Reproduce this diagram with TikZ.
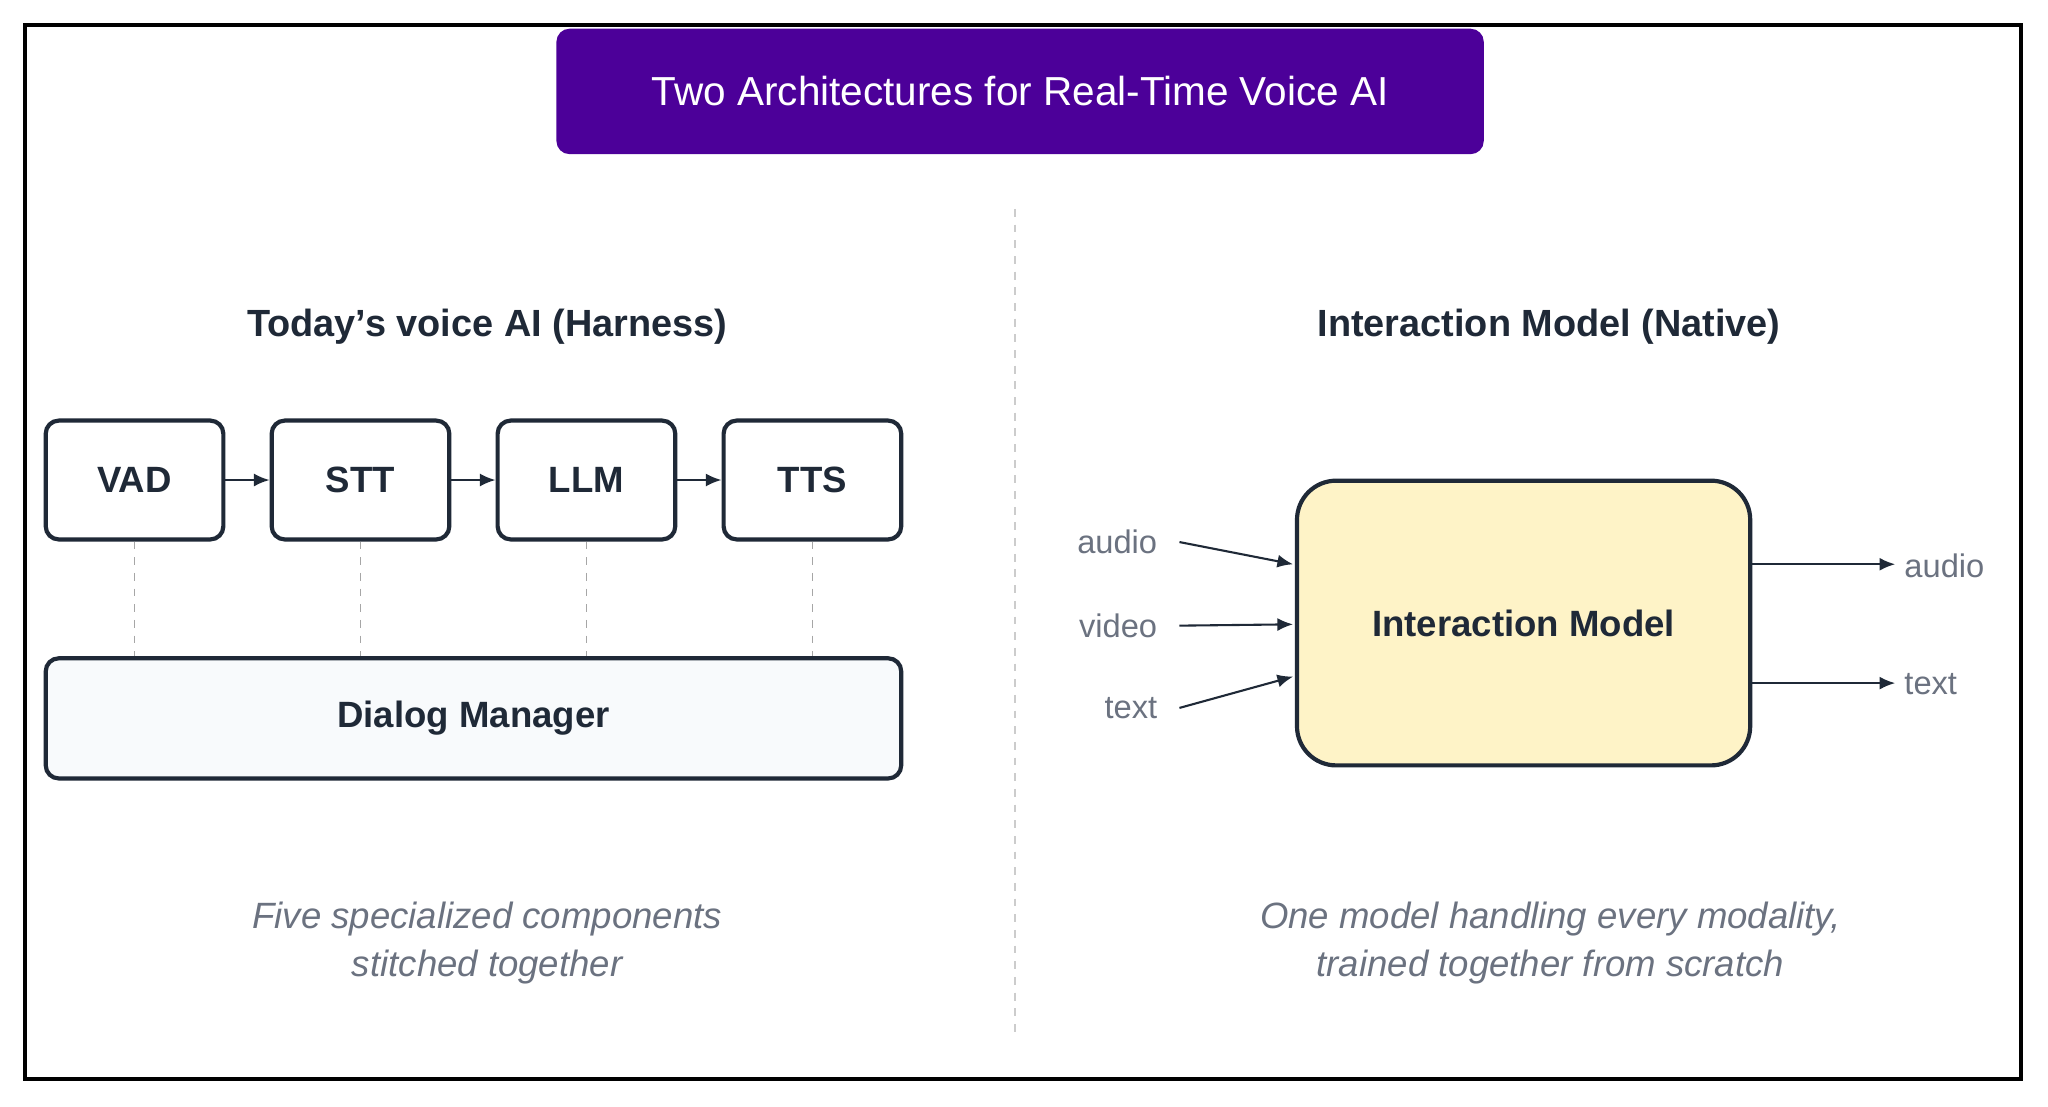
\documentclass[tikz,border=0pt]{standalone}
\usepackage{fontspec}
\setmainfont{Liberation Sans}
\usetikzlibrary{arrows.meta}
\definecolor{ink}{HTML}{1F2937}
\definecolor{purp}{HTML}{4C0099}
\definecolor{capg}{HTML}{6B7280}
\definecolor{dm}{HTML}{F8FAFC}
\definecolor{ym}{HTML}{FEF3C7}
\begin{document}
\begin{tikzpicture}[x=0.5pt,y=-0.5pt,
  blk/.style={draw=ink,line width=1.6pt,rounded corners=5pt,font=\bfseries\fontsize{14}{16}\selectfont,text=ink},
  arr/.style={-{Latex[length=6pt,width=5pt]},ink,line width=0.8pt},
  dsh/.style={gray!70,dashed,line width=0.6pt},
  head/.style={font=\bfseries\fontsize{14.5}{17}\selectfont,text=ink},
  capt/.style={font=\itshape\fontsize{14}{18}\selectfont,text=capg,align=center},
  lab/.style={font=\fontsize{12.5}{15}\selectfont,text=capg}]
\fill[white] (0,0) rectangle (1568,847);
\useasboundingbox (0,0) rectangle (1568,847);
\draw[black,line width=1.5pt] (19,19) rectangle (1547,826);
\node[fill=purp,rounded corners=5pt,minimum width=355pt,minimum height=48pt,text=white,font=\fontsize{15.5}{18}\selectfont] (title) at (781,70) {Two Architectures for Real-Time Voice AI};
\draw[gray!40,dashed,line width=0.6pt] (777,160) coordinate (d1) -- (777,790) coordinate (d2);
\node[head] (lh) at (373,250) {Today's voice AI (Harness)};
\node[head] (rh) at (1186,250) {Interaction Model (Native)};
\foreach \n/\x/\t in {vad/103/VAD,stt/276/STT,llm/449/LLM,tts/622/TTS}{
  \node[blk,minimum width=68pt,minimum height=45.5pt] (\n) at (\x,367.5) {\t};
}
\node[blk,fill=dm,minimum width=327.5pt,minimum height=46pt] (dmg) at (362.5,550) {Dialog Manager};
\draw[arr] (vad) -- (stt);
\draw[arr] (stt) -- (llm);
\draw[arr] (llm) -- (tts);
\foreach \n in {vad,stt,llm,tts}{\draw[dsh] (\n.south) -- (\n.south |- dmg.north);}
\node[capt] (lc) at (373,722) {Five specialized components\\stitched together};
\node[blk,fill=ym,rounded corners=15pt,minimum width=173.5pt,minimum height=109pt] (im) at (1166.5,477) {Interaction Model};
\node[lab,anchor=east] (ia) at (893,415) {audio};
\node[lab,anchor=east] (iv) at (893,479) {video};
\node[lab,anchor=east] (it) at (893,542) {text};
\draw[arr] (ia.east)++(10,0) coordinate (a0) -- (990,432);
\draw[arr] (iv.east)++(10,0) coordinate (v0) -- (990,478);
\draw[arr] (it.east)++(10,0) coordinate (t0) -- (990,518);
\node[lab,anchor=west] (oa) at (1451,433) {audio};
\node[lab,anchor=west] (ot) at (1451,524) {text};
\draw[arr] (im.east |- 0,432) -- (oa.west |- 0,432);
\draw[arr] (im.east |- 0,523) -- (ot.west |- 0,523);
\node[capt] (rc) at (1187,722) {One model handling every modality,\\trained together from scratch};
\end{tikzpicture}
\end{document}
